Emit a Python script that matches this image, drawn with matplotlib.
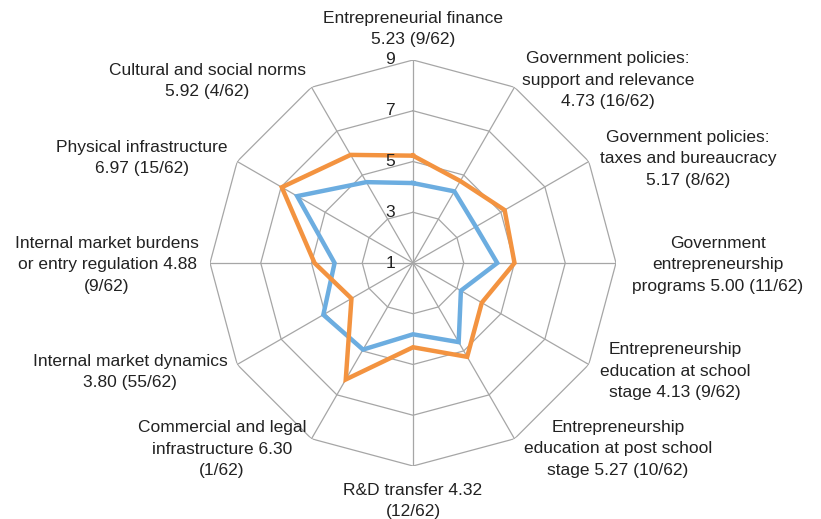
import numpy as np
import matplotlib.pyplot as plt

plt.rcParams['font.family'] = ['Liberation Sans', 'DejaVu Sans']

# 12 pillars, clockwise from the top
labels = [
    'Entrepreneurial finance\n5.23 (9/62)',
    'Government policies:\nsupport and relevance\n4.73 (16/62)',
    'Government policies:\ntaxes and bureaucracy\n5.17 (8/62)',
    'Government\nentrepreneurship\nprograms 5.00 (11/62)',
    'Entrepreneurship\neducation at school\nstage 4.13 (9/62)',
    'Entrepreneurship\neducation at post school\nstage 5.27 (10/62)',
    'R&D transfer 4.32\n(12/62)',
    'Commercial and legal\ninfrastructure 6.30\n(1/62)',
    'Internal market dynamics\n3.80 (55/62)',
    'Internal market burdens\nor entry regulation 4.88\n(9/62)',
    'Physical infrastructure\n6.97 (15/62)',
    'Cultural and social norms\n5.92 (4/62)',
]
country = [5.23, 4.73, 5.17, 5.00, 4.13, 5.27, 4.32, 6.30, 3.80, 4.88, 6.97, 5.92]
average = [4.15, 4.26, 3.86, 4.32, 3.18, 4.60, 3.81, 4.94, 5.08, 4.09, 6.27, 4.68]
rings = [3, 5, 7, 9]
tick_vals = [1, 3, 5, 7, 9]

# label centres in pixels (x from left, y from top)
label_px = [(413, 29), (608, 80), (688, 159), (718, 265), (675, 371), (618, 449),
            (413, 501), (222, 449), (130, 372), (107, 265), (142, 158), (207, 81)]

W, H = 821, 519
fig = plt.figure(figsize=(W / 100, H / 100), dpi=100)
ax = fig.add_axes([210 / W, (H - 263 - 203) / H, 406 / W, 406 / H], projection='polar')
ax.set_theta_zero_location('N')
ax.set_theta_direction(-1)
ax.set_ylim(1, 9)
ax.grid(False)
ax.spines['polar'].set_visible(False)
ax.set_xticks([])
ax.set_yticks([])
ax.patch.set_alpha(0)

n = len(country)
theta = np.linspace(0, 2 * np.pi, n, endpoint=False)
closed = np.append(theta, theta[0])

for r in rings:
    ax.plot(closed, [r] * (n + 1), color='#a6a6a6', lw=0.9, zorder=1)
for t in theta:
    ax.plot([t, t], [1, 9], color='#a6a6a6', lw=0.9, zorder=1)

ax.plot(closed, average + average[:1], color='#6cade0', lw=3.2, zorder=3,
        solid_joinstyle='miter')
ax.plot(closed, country + country[:1], color='#f39340', lw=3.2, zorder=4,
        solid_joinstyle='miter')

for v in tick_vals:
    ax.annotate(str(v), xy=(0, v), xytext=(-13, 0), textcoords='offset points',
                ha='right', va='center', fontsize=12.5, color='#222222', zorder=5)

for (x, y), txt in zip(label_px, labels):
    fig.text(x / W, 1 - y / H, txt, ha='center', va='center', fontsize=12.5,
             color='#222222', linespacing=1.55)

fig.savefig('out.png', dpi=100)
